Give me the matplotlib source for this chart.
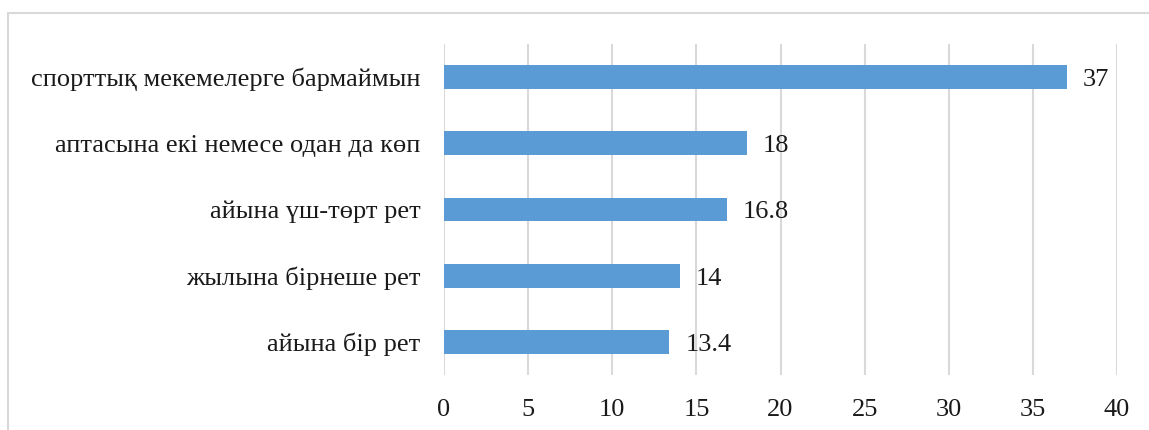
import matplotlib
matplotlib.use("Agg")
import matplotlib.pyplot as plt
from matplotlib.patches import Rectangle

categories = ["айына бір рет", "жылына бірнеше рет", "айына үш-төрт рет",
              "аптасына екі немесе одан да көп", "спорттық мекемелерге бармаймын"]
values = [13.4, 14, 16.8, 18, 37]
value_labels = ["13.4", "14", "16.8", "18", "37"]
xticks = [0, 5, 10, 15, 20, 25, 30, 35, 40]

plt.rcParams['font.family'] = ['Liberation Serif', 'DejaVu Serif']

fig = plt.figure(figsize=(11.49, 4.30), dpi=100)
ax = fig.add_axes([444/1149, 1-375/430, (1117-444)/1149, (375-44)/430])

y = list(range(len(categories)))
ax.barh(y, values, height=0.36, color='#5B9BD5', zorder=3)
for yi, v, lab in zip(y, values, value_labels):
    ax.annotate(lab, (v, yi), xytext=(16, -3), textcoords='offset pixels',
                va='center', ha='left', fontsize=19, color='#1a1a1a')

ax.set_xlim(0, 40)
ax.set_ylim(-0.5, len(categories)-0.5)
ax.set_xticks(xticks)
ax.set_xticklabels([str(t) for t in xticks])
ax.set_yticks(y)
ax.set_yticklabels(categories)
ax.tick_params(axis='both', length=0, labelsize=19, colors='#1a1a1a')
ax.tick_params(axis='x', pad=17)
ax.tick_params(axis='y', pad=17)
ax.xaxis.grid(True, color='#D9D9D9', linewidth=1.5, zorder=0)
ax.set_axisbelow(True)
for s in ax.spines.values():
    s.set_visible(False)

fig.patches.append(Rectangle((8/1149, -0.1), 1.2, 1 - 13/430 + 0.1, transform=fig.transFigure,
                             fill=False, edgecolor='#D9D9D9', linewidth=1.5))

fig.savefig('out.png', dpi=100)
